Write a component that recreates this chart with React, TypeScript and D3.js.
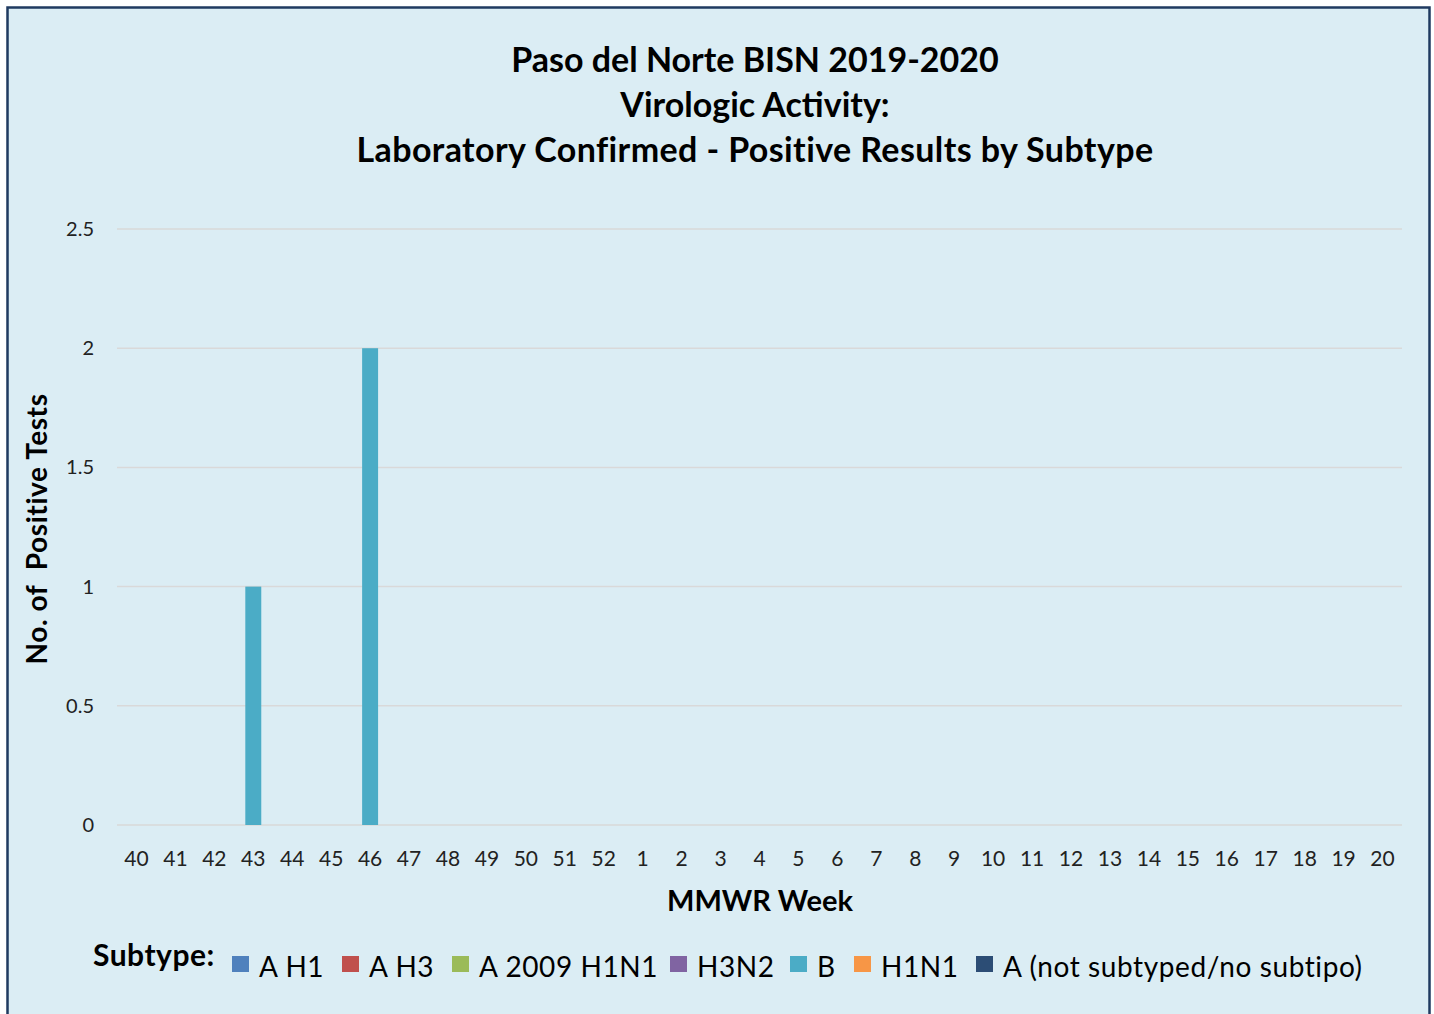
import React, { useEffect, useRef } from 'react';
import * as d3 from 'd3';

const weeks = ['40', '41', '42', '43', '44', '45', '46', '47', '48', '49', '50', '51', '52',
    '1', '2', '3', '4', '5', '6', '7', '8', '9', '10', '11', '12', '13', '14', '15', '16', '17', '18', '19', '20'];

const subtypes = ['A H1', 'A H3', 'A 2009 H1N1', 'H3N2', 'B', 'H1N1', 'A (not subtyped/no subtipo)'];
const subtypeColors = ['#4F81BD', '#C0504D', '#9BBB59', '#8064A2', '#4BACC6', '#F79646', '#2C4D75'];

// positive tests per week, one array per subtype
const valuesAH1 = weeks.map(() => 0);
const valuesAH3 = weeks.map(() => 0);
const valuesA2009 = weeks.map(() => 0);
const valuesH3N2 = weeks.map(() => 0);
const valuesB = [0, 0, 0, 1, 0, 0, 2, 0, 0, 0, 0, 0, 0, 0, 0, 0, 0, 0, 0, 0, 0, 0, 0, 0, 0, 0, 0, 0, 0, 0, 0, 0, 0];
const valuesH1N1 = weeks.map(() => 0);
const valuesANotSub = weeks.map(() => 0);

const yTicks = [0, 0.5, 1, 1.5, 2, 2.5];

const titleLines = ['Paso del Norte BISN 2019-2020', 'Virologic Activity:', 'Laboratory Confirmed - Positive Results by Subtype'];

// legend item x positions (square left edge)
const legendX = [232, 342, 452, 670, 790, 854, 976];

const W = 1434;
const H = 1014;
const FONT = 'Lato, "Open Sans", sans-serif';

const App: React.FC = () => {
    const svgRef = useRef<SVGSVGElement>(null);

    useEffect(() => {
        document.body.style.margin = '0';
        if (!svgRef.current) return;
        const svg = d3.select(svgRef.current);
        svg.selectAll('*').remove();

        const margin = { top: 229, left: 117, right: W - 1402, bottom: H - 825 };
        const plotW = W - margin.left - margin.right;
        const plotH = H - margin.top - margin.bottom;

        // background + border
        svg.append('rect')
            .attr('x', 7.5).attr('y', 7.5)
            .attr('width', 1422).attr('height', 1020)
            .attr('fill', '#DBEDF4')
            .attr('stroke', '#1F3A60')
            .attr('stroke-width', 2.5);

        // title
        svg.append('g').selectAll('text')
            .data(titleLines)
            .join('text')
            .attr('x', 755)
            .attr('y', (_d, i) => 72 + i * 45)
            .attr('text-anchor', 'middle')
            .style('font-family', FONT)
            .style('font-size', '34px')
            .style('font-weight', 'bold')
            .style('letter-spacing', (_d, i) => (i === 2 ? '0.4px' : '0px'))
            .attr('fill', '#000')
            .text(d => d);

        const g = svg.append('g').attr('transform', `translate(${margin.left},${margin.top})`);

        const x = d3.scaleBand<string>().domain(weeks).range([0, plotW]).paddingInner(0.59).paddingOuter(0.295);
        const y = d3.scaleLinear().domain([0, 2.5]).range([plotH, 0]);

        // gridlines
        g.append('g').selectAll('line')
            .data(yTicks)
            .join('line')
            .attr('x1', 0).attr('x2', plotW)
            .attr('y1', d => y(d)).attr('y2', d => y(d))
            .attr('stroke', '#D9D9D9')
            .attr('stroke-width', 1.5);

        // y tick labels
        g.append('g').selectAll('text')
            .data(yTicks)
            .join('text')
            .attr('x', -23)
            .attr('y', d => y(d))
            .attr('dy', '0.35em')
            .attr('text-anchor', 'end')
            .style('font-family', FONT)
            .style('font-size', '20px')
            .attr('fill', '#222')
            .text(d => String(d));

        // x tick labels
        g.append('g').selectAll('text')
            .data(weeks)
            .join('text')
            .attr('x', d => (x(d) ?? 0) + x.bandwidth() / 2)
            .attr('y', plotH + 41)
            .attr('text-anchor', 'middle')
            .style('font-family', FONT)
            .style('font-size', '21px')
            .attr('fill', '#222')
            .text(d => d);

        // stacked bars
        const seriesValues = [valuesAH1, valuesAH3, valuesA2009, valuesH3N2, valuesB, valuesH1N1, valuesANotSub];
        const rows = weeks.map((w, i) => {
            const row: Record<string, number | string> = { week: w };
            subtypes.forEach((s, k) => { row[s] = seriesValues[k][i]; });
            return row;
        });
        const stack = d3.stack<Record<string, number | string>>().keys(subtypes).value((d, k) => d[k] as number);
        const stacked = stack(rows);

        g.append('g').selectAll('g')
            .data(stacked)
            .join('g')
            .attr('fill', (_d, i) => subtypeColors[i])
            .selectAll('rect')
            .data(d => d.filter(p => p[1] - p[0] > 0))
            .join('rect')
            .attr('x', d => x(d.data.week as string) ?? 0)
            .attr('width', x.bandwidth())
            .attr('y', d => y(d[1]))
            .attr('height', d => y(d[0]) - y(d[1]));

        // axis titles
        svg.append('text')
            .attr('transform', `translate(47,529) rotate(-90)`)
            .attr('text-anchor', 'middle')
            .style('font-family', FONT)
            .style('font-size', '28px')
            .style('font-weight', 'bold')
            .style('letter-spacing', '0.6px')
            .style('white-space', 'pre')
            .attr('fill', '#000')
            .text('No. of  Positive Tests');

        svg.append('text')
            .attr('x', 760)
            .attr('y', 911)
            .attr('text-anchor', 'middle')
            .style('font-family', FONT)
            .style('font-size', '29px')
            .style('font-weight', 'bold')
            .attr('fill', '#000')
            .text('MMWR Week');

        // legend
        svg.append('text')
            .attr('x', 93)
            .attr('y', 966)
            .style('font-family', FONT)
            .style('font-size', '30px')
            .style('font-weight', 'bold')
            .style('letter-spacing', '0.5px')
            .attr('fill', '#000')
            .text('Subtype:');

        const legend = svg.append('g').selectAll('g')
            .data(subtypes)
            .join('g')
            .attr('transform', (_d, i) => `translate(${legendX[i]},0)`);

        legend.append('rect')
            .attr('x', 0).attr('y', 956)
            .attr('width', 17).attr('height', 16)
            .attr('fill', (_d, i) => subtypeColors[i]);

        legend.append('text')
            .attr('x', 27)
            .attr('y', 977)
            .style('font-family', FONT)
            .style('font-size', '28px')
            .style('letter-spacing', '0.6px')
            .attr('fill', '#000')
            .text(d => d);
    }, []);

    return (
        <div style={{ width: W, height: H }}>
            <svg ref={svgRef} width={W} height={H} style={{ display: 'block' }} />
        </div>
    );
};

export default App;
